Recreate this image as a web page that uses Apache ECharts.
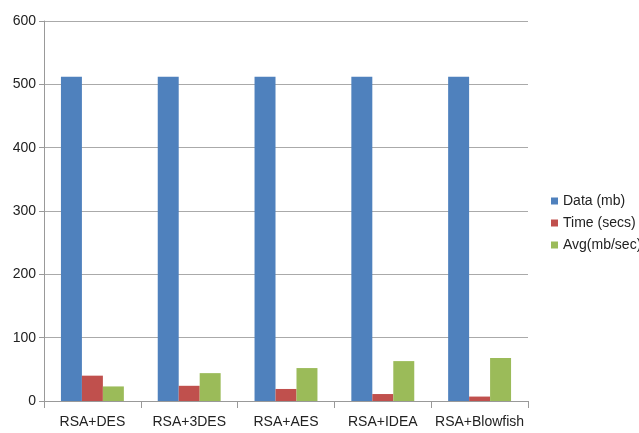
<!DOCTYPE html>
<html><head><meta charset="utf-8">
<script src="https://cdn.jsdelivr.net/npm/echarts@6/dist/echarts.min.js"></script>
<style>html,body{margin:0;padding:0;background:#fff}#c{width:639px;height:433px}</style>
</head><body><div id="c"></div>
<script>
const categories = ['RSA+DES','RSA+3DES','RSA+AES','RSA+IDEA','RSA+Blowfish'];
const dataMb = [512,512,512,512,512];
const timeSecs = [40,24,19,11,7];
const avgMbSec = [23,44,52,63,68];
const seriesNames = ['Data (mb)','Time (secs)','Avg(mb/sec)'];
const colors = ['#4F81BD','#C0504D','#9BBB59'];
const font = 'Liberation Sans, Arial, sans-serif';
const chart = echarts.init(document.getElementById('c'));
chart.setOption({
  animation:false,
  color:colors,
  grid:{left:44,right:111,top:21,bottom:32},
  legend:{orient:'vertical',left:546,top:189,itemWidth:7,itemHeight:7,itemGap:8,
    icon:'rect',textStyle:{fontFamily:font,fontSize:14,color:'#222'},itemStyle:{borderWidth:0},
    data:seriesNames},
  xAxis:{type:'category',data:categories,
    axisLine:{lineStyle:{color:'#999'}},
    axisTick:{show:true,length:7,lineStyle:{color:'#999'}},
    axisLabel:{fontFamily:font,fontSize:14,color:'#222',margin:14,interval:0}},
  yAxis:{type:'value',min:0,max:600,interval:100,
    axisLine:{show:true,lineStyle:{color:'#999'}},
    axisTick:{show:true,length:5,lineStyle:{color:'#999'}},
    splitLine:{lineStyle:{color:'#aaa'}},
    axisLabel:{fontFamily:font,fontSize:14,color:'#222',margin:8}},
  series:[
    {name:seriesNames[0],type:'bar',data:dataMb,barGap:'0%',barCategoryGap:'35%'},
    {name:seriesNames[1],type:'bar',data:timeSecs,barGap:'0%',barCategoryGap:'35%'},
    {name:seriesNames[2],type:'bar',data:avgMbSec,barGap:'0%',barCategoryGap:'35%'}
  ]
});
</script></body></html>
